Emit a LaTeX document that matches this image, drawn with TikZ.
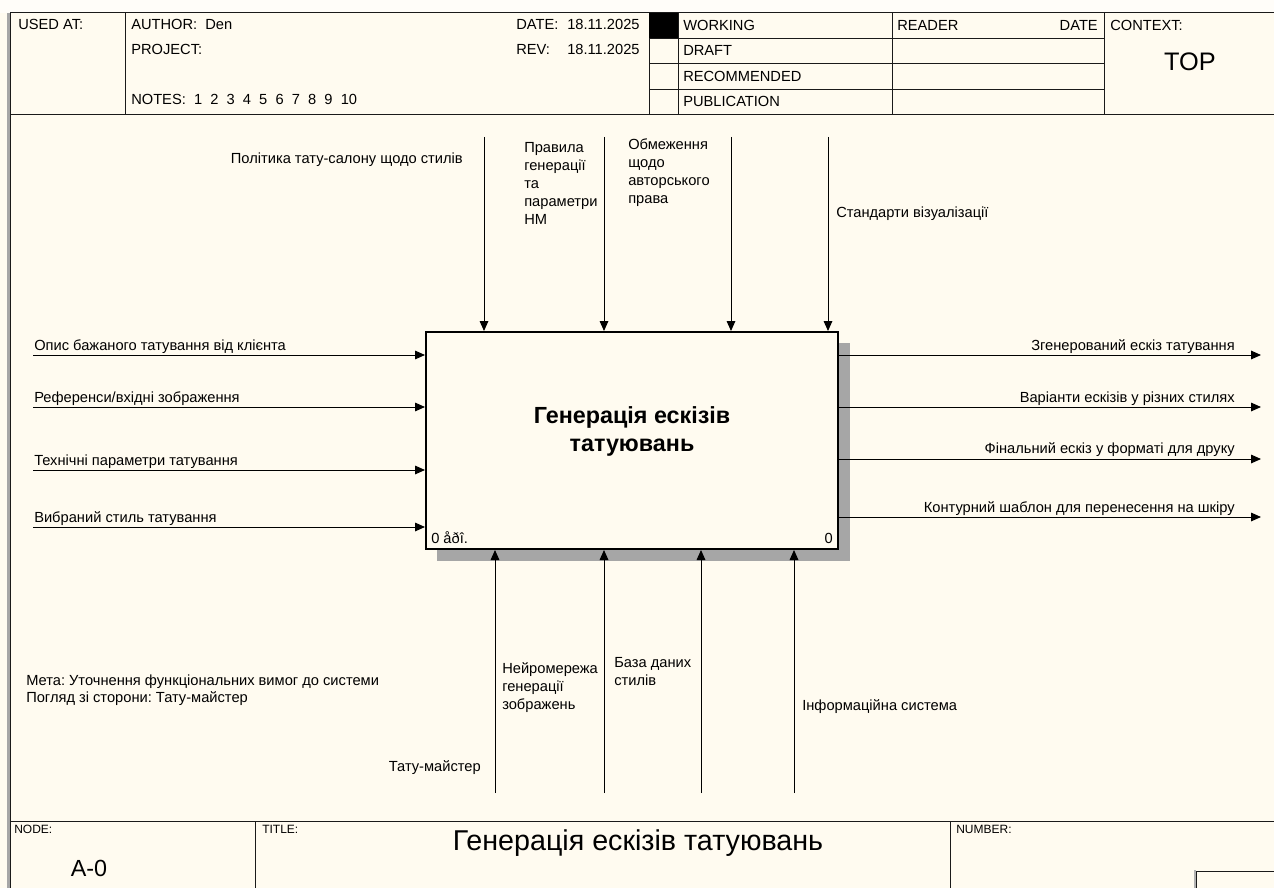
\documentclass[tikz,border=0pt]{standalone}
\usepackage{fontspec}
\setmainfont{Liberation Sans}
\usetikzlibrary{arrows.meta}
\definecolor{paper}{HTML}{FFFBF0}
\definecolor{edge}{HTML}{1A1A1A}
\frenchspacing
\begin{document}
\begin{tikzpicture}[x=0.75pt,y=-0.75pt,
  rule/.style={line width=0.75pt, draw=edge},
  flow/.style={line width=0.75pt, draw=black, -{Triangle[length=7.5pt,width=6.5pt]}},
  lbl/.style={inner sep=0pt, font=\fontsize{11}{13.5}\selectfont},
  mlbl/.style={lbl, align=left},
  small/.style={inner sep=0pt, font=\fontsize{9}{11}\selectfont},
]
% page
\useasboundingbox (0,0) rectangle (1274,888);
\fill[paper] (0,0) rectangle (1274,888);
\fill[white!60!paper] (0,0) rectangle (1274,13);

% outer frame
\draw[gray!70, line width=1.6pt] (8.5,13) -- (8.5,888);
\draw[rule] (10.8,13) -- (10.8,888);
\draw[rule] (10,13) -- (1274,13);
\draw[rule] (10,115) -- (1274,115);
\draw[rule] (10,821) -- (1274,821);

% header grid
\draw[rule] (125,13) -- (125,115);
\draw[rule] (649,13) -- (649,115);
\draw[rule] (678,13) -- (678,115);
\draw[rule] (892,13) -- (892,115);
\draw[rule] (1104,13) -- (1104,115);
\foreach \yy in {38.5,64,89.5} \draw[rule] (649,\yy) -- (1104,\yy);
\fill[black] (649,13) rectangle (678,38.5);

% header texts
\node[lbl, anchor=base west] (usedat) at (18,30) {USED AT:};
\node[lbl, anchor=base west] (author) at (131,30) {AUTHOR:~~Den};
\node[lbl, anchor=base west] (project) at (131,55) {PROJECT:};
\node[lbl, anchor=base west] (notes) at (131,105) {NOTES:~~1~~2~~3~~4~~5~~6~~7~~8~~9~~10};
\node[lbl, anchor=base west] (datek) at (516,30) {DATE:};
\node[lbl, anchor=base west] (datev) at (567,30) {18.11.2025};
\node[lbl, anchor=base west] (revk) at (516,55) {REV:};
\node[lbl, anchor=base west] (revv) at (567,55) {18.11.2025};
\node[lbl, anchor=base west] (working) at (683,31) {WORKING};
\node[lbl, anchor=base west] (draft) at (683,56) {DRAFT};
\node[lbl, anchor=base west] (recom) at (683,81.5) {RECOMMENDED};
\node[lbl, anchor=base west] (publ) at (683,107) {PUBLICATION};
\node[lbl, anchor=base west] (reader) at (897,31) {READER};
\node[lbl, anchor=base east] (rdate) at (1098,31) {DATE};
\node[lbl, anchor=base west] (context) at (1110,31) {CONTEXT:};
\node[inner sep=0pt, font=\fontsize{19}{22}\selectfont] (top) at (1190,62) {TOP};

% footer
\draw[rule] (255,821) -- (255,888);
\draw[rule] (950,821) -- (950,888);
\node[small, anchor=base west] (nodek) at (14,833) {NODE:};
\node[small, anchor=base west] (titlek) at (262,833) {TITLE:};
\node[small, anchor=base west] (numberk) at (956,833) {NUMBER:};
\node[inner sep=0pt, font=\fontsize{17.5}{20}\selectfont] (nodev) at (89,868) {A-0};
\node[inner sep=0pt, font=\fontsize{21.5}{25}\selectfont] (titlev) at (638,843) {Генерація ескізів татуювань};
\draw[gray!60, line width=1pt] (1195,888) -- (1195,870);
\draw[rule] (1196,888) -- (1196,871) -- (1274,871);

% function box with shadow
\fill[black!35] (838,343) rectangle (850,561);
\fill[black!35] (437,549) rectangle (850,561);
\node[draw=black, fill=paper, line width=1.5pt, rectangle, inner sep=0pt,
      minimum width=309pt, minimum height=162.75pt] (fn) at (632,440.5) {};
\node[inner sep=0pt, align=center, font=\bfseries\fontsize{17.5}{21}\selectfont] (fnlab) at (632,431)
  {Генерація ескізів\\татуювань};
\node[lbl, anchor=base west] (fnid) at (431,543) {0 åðî.};
\node[lbl, anchor=base east] (fnno) at (833,543) {0};

% inputs
\coordinate (i1) at (33,355);
\coordinate (i2) at (33,407);
\coordinate (i3) at (33,470);
\coordinate (i4) at (33,527);
\foreach \c in {i1,i2,i3,i4} \draw[flow] (\c) -- (\c -| fn.west);
\node[lbl, anchor=base west] (i1lab) at (34,350) {Опис бажаного татування від клієнта};
\node[lbl, anchor=base west] (i2lab) at (34,402) {Референси/вхідні зображення};
\node[lbl, anchor=base west] (i3lab) at (34,465) {Технічні параметри татування};
\node[lbl, anchor=base west] (i4lab) at (34,522) {Вибраний стиль татування};

% outputs
\coordinate (o1) at (1261,355);
\coordinate (o2) at (1261,407);
\coordinate (o3) at (1261,459);
\coordinate (o4) at (1261,517);
\foreach \c in {o1,o2,o3,o4} \draw[flow] (\c -| fn.east) -- (\c);
\node[lbl, anchor=base east] (o1lab) at (1235,350) {Згенерований ескіз татування};
\node[lbl, anchor=base east] (o2lab) at (1235,402) {Варіанти ескізів у різних стилях};
\node[lbl, anchor=base east] (o3lab) at (1235,453) {Фінальний ескіз у форматі для друку};
\node[lbl, anchor=base east] (o4lab) at (1235,512) {Контурний шаблон для перенесення на шкіру};

% controls
\coordinate (c1) at (484,137);
\coordinate (c2) at (604,137);
\coordinate (c3) at (731,137);
\coordinate (c4) at (828,137);
\foreach \c in {c1,c2,c3,c4} \draw[flow] (\c) -- (\c |- fn.north);
\node[lbl, anchor=base east] (c1lab) at (463,164) {Політика тату-салону щодо стилів};
\node[mlbl, anchor=north west] (c2lab) at (524,142) {Правила\\генерації\\та\\параметри\\НМ};
\node[mlbl, anchor=north west] (c3lab) at (628,138) {Обмеження\\щодо\\авторського\\права};
\node[lbl, anchor=base west] (c4lab) at (836,217) {Стандарти візуалізації};

% mechanisms
\coordinate (m1) at (495,793);
\coordinate (m2) at (604,793);
\coordinate (m3) at (701,793);
\coordinate (m4) at (794,793);
\foreach \c in {m1,m2,m3,m4} \draw[flow] (\c) -- (\c |- fn.south);
\node[lbl, anchor=base east] (m1lab) at (481,771) {Тату-майстер};
\node[mlbl, anchor=north west] (m2lab) at (502,662) {Нейромережа\\генерації\\зображень};
\node[mlbl, anchor=north west] (m3lab) at (614,657) {База даних\\стилів};
\node[lbl, anchor=base west] (m4lab) at (802,710) {Інформаційна система};

% purpose and viewpoint
\node[inner sep=0pt, align=left, anchor=north west, font=\fontsize{11}{12.75}\selectfont] (purpose) at (26,675)
  {Мета: Уточнення функціональних вимог до системи\\Погляд зі сторони: Тату-майстер};
\end{tikzpicture}
\end{document}
